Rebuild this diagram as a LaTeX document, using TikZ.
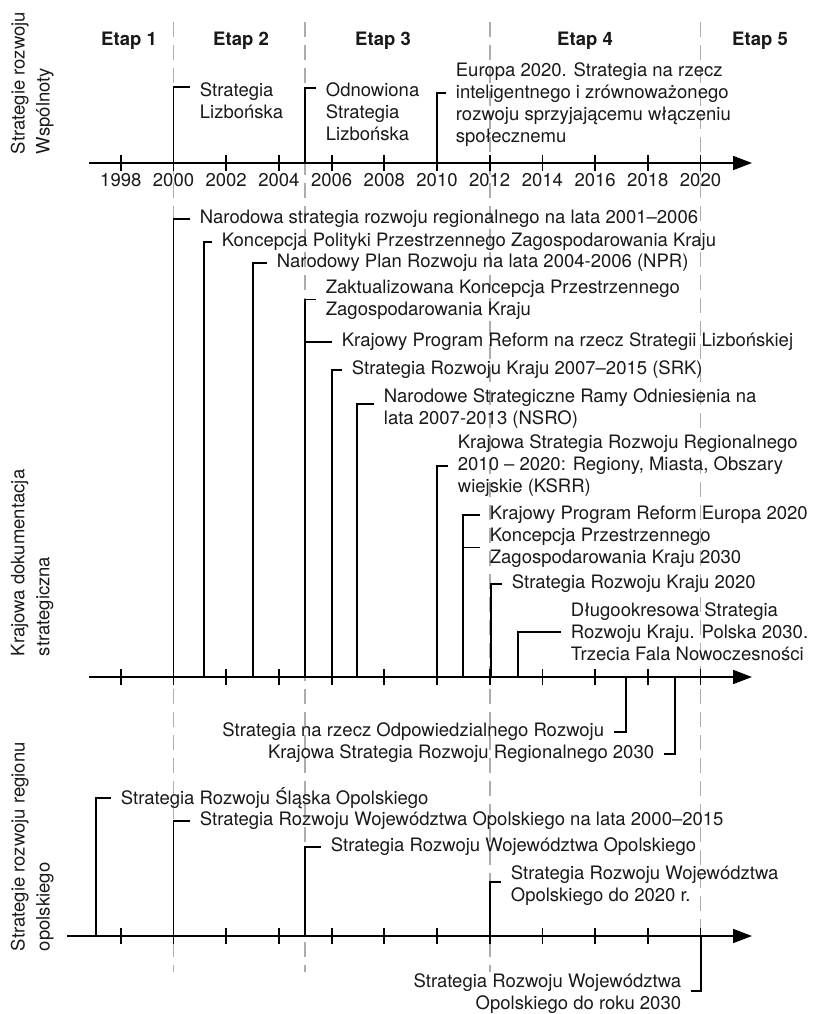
\documentclass[tikz,border=0pt]{standalone}
\usepackage{fontspec}
\setmainfont{TeX Gyre Heros}
\usetikzlibrary{arrows.meta}

\begin{document}
\begin{tikzpicture}[x=1pt,y=-1pt,line width=1.8pt,shorten >=9pt,
    axis line/.style={shorten >=0pt,-{Triangle[length=19pt,width=14pt]}},
    stage line/.style={shorten >=0pt,draw=black!32,line width=1.6pt,dash pattern=on 15pt off 8pt},
    tick mark/.style={shorten >=0pt},
    doc node/.style={anchor=west,inner sep=0pt,align=left,text=black!90,font=\fontsize{18.5}{22}\selectfont},
    year label/.style={inner sep=0pt,text=black!90,font=\fontsize{18.5}{22}\selectfont},
    etap label/.style={inner sep=0pt,text=black!90,font=\fontsize{18.5}{22}\selectfont\bfseries},
    side label/.style={rotate=90,anchor=north west,inner sep=0pt,align=left,text=black!90,font=\fontsize{18.5}{25}\selectfont}]
                \useasboundingbox (0,0) rectangle (812,1014);

                \foreach \yr in {2000,2005,2012,2020}
                    \draw[stage line] ({173.5+26.35*(\yr-2000)},22) -- ({173.5+26.35*(\yr-2000)},972);

                \draw[axis line] (89,163) -- (752,163);
                \draw[axis line] (89,677) -- (752,677);
                \draw[axis line] (67,936) -- (752,936);
                \foreach \yr in {1998,2000,...,2020}{
                    \foreach \ya in {163,677,936}
                        \draw[tick mark] ({173.5+26.35*(\yr-2000)},\ya-8) -- ({173.5+26.35*(\yr-2000)},\ya+8);
                    \node[year label] (y\yr) at ({173.5+26.35*(\yr-2000)},180) {\yr};
                }

                \node[etap label] (e1) at (129,40.5) {Etap 1};
                \node[etap label] (e2) at (241,40.5) {Etap 2};
                \node[etap label] (e3) at (383,40.5) {Etap 3};
                \node[etap label] (e4) at (585,40.5) {Etap 4};
                \node[etap label] (e5) at (760,40.5) {Etap 5};

                \node[side label] (sw) at (10,155) {Strategie rozwoju\\Wspólnoty};
                \node[side label] (kd) at (10,657) {Krajowa dokumentacja\\strategiczna};
                \node[side label] (ro) at (10,952) {Strategie rozwoju regionu\\opolskiego};

                % starting points on the axes
                \coordinate (top2000) at (173.5,163);
                \coordinate (top2005) at (305,163);
                \coordinate (top2010) at (437,163);
                \coordinate (mid2000) at (173.5,677);
                \coordinate (mid2001) at (204,677);
                \coordinate (mid2003) at (253,677);
                \coordinate (mid2005) at (305,677);
                \coordinate (mid2006) at (332,677);
                \coordinate (mid2007) at (357,677);
                \coordinate (mid2010) at (437,677);
                \coordinate (mid2011) at (463,677);
                \coordinate (mid2012) at (491,677);
                \coordinate (mid2013) at (518,677);
                \coordinate (mid2017) at (626,677);
                \coordinate (mid2019) at (675,677);
                \coordinate (reg1997) at (96,936);
                \coordinate (reg2000) at (173.5,936);
                \coordinate (reg2005) at (305,936);
                \coordinate (reg2012) at (490,936);
                \coordinate (reg2020) at (701,936);

                \node[doc node] (lis) at (199,101) {Strategia\\Lizbońska};
                \node[doc node] (olis) at (325,112) {Odnowiona\\Strategia\\Lizbońska};
                \node[doc node] (eu) at (455,105) {Europa 2020. Strategia na rzecz\\inteligentnego i zrównoważonego\\rozwoju sprzyjającemu włączeniu\\społecznemu};

                \node[doc node] (n1) at (199,219) {Narodowa strategia rozwoju regionalnego na lata 2001–2006};
                \node[doc node] (n2) at (221,242) {Koncepcja Polityki Przestrzennego Zagospodarowania Kraju};
                \node[doc node] (n3) at (276,263) {Narodowy Plan Rozwoju na lata 2004-2006 (NPR)};
                \node[doc node] (n4) at (325,299.5) {Zaktualizowana Koncepcja Przestrzennego\\Zagospodarowania Kraju};
                \node[doc node] (n5) at (341,342) {Krajowy Program Reform na rzecz Strategii Lizbońskiej};
                \node[doc node] (n6) at (351,370) {Strategia Rozwoju Kraju 2007–2015 (SRK)};
                \node[doc node] (n7) at (383,408.5) {Narodowe Strategiczne Ramy Odniesienia na\\lata 2007-2013 (NSRO)};
                \node[doc node] (n8) at (457,466) {Krajowa Strategia Rozwoju Regionalnego\\2010 – 2020: Regiony, Miasta, Obszary\\wiejskie (KSRR)};
                \node[doc node] (n9) at (489,515) {Krajowy Program Reform Europa 2020};
                \node[doc node] (n10) at (489,547.5) {Koncepcja Przestrzennego\\Zagospodarowania Kraju 2030};
                \node[doc node] (n11) at (511,584) {Strategia Rozwoju Kraju 2020};
                \node[doc node] (n12) at (570,632) {Długookresowa Strategia\\Rozwoju Kraju. Polska 2030.\\Trzecia Fala Nowoczesności};
                \node[doc node,anchor=east] (n13) at (605,732) {Strategia na rzecz Odpowiedzialnego Rozwoju};
                \node[doc node,anchor=east] (n14) at (655,754) {Krajowa Strategia Rozwoju Regionalnego 2030};

                \node[doc node] (r1) at (120,798) {Strategia Rozwoju Śląska Opolskiego};
                \node[doc node] (r2) at (199,821) {Strategia Rozwoju Województwa Opolskiego na lata 2000–2015};
                \node[doc node] (r3) at (330,847) {Strategia Rozwoju Województwa Opolskiego};
                \node[doc node] (r4) at (510,886) {Strategia Rozwoju Województwa\\Opolskiego do 2020 r.};
                \node[doc node,anchor=east,align=right] (r5) at (682,994) {Strategia Rozwoju Województwa\\Opolskiego do roku 2030};

                \draw (top2000) |- ([yshift=14pt]lis.west);
                \draw (top2005) |- ([yshift=24pt]olis.west);
                \draw (top2010) |- ([yshift=12pt]eu.west);

                \draw (mid2000) |- (n1.west);
                \draw (mid2001) |- (n2.west);
                \draw (mid2003) |- (n3.west);
                \draw (mid2005) |- (n4.west);
                \draw (mid2005) |- (n5.west);
                \draw (mid2006) |- (n6.west);
                \draw (mid2007) |- ([yshift=4.5pt]n7.west);
                \draw (mid2010) |- (n8.west);
                \draw (mid2011) |- (n9.west);
                \draw (mid2011) |- (n10.west);
                \draw (mid2012) |- (n11.west);
                \draw (mid2013) |- (n12.west);
                \draw (mid2017) |- (n13.east);
                \draw (mid2019) |- (n14.east);

                \draw (reg1997) |- (r1.west);
                \draw (reg2000) |- (r2.west);
                \draw (reg2005) |- (r3.west);
                \draw (reg2012) |- ([yshift=4pt]r4.west);
                \draw (reg2020) |- ([yshift=3pt]r5.east);
            \end{tikzpicture}
\end{document}
